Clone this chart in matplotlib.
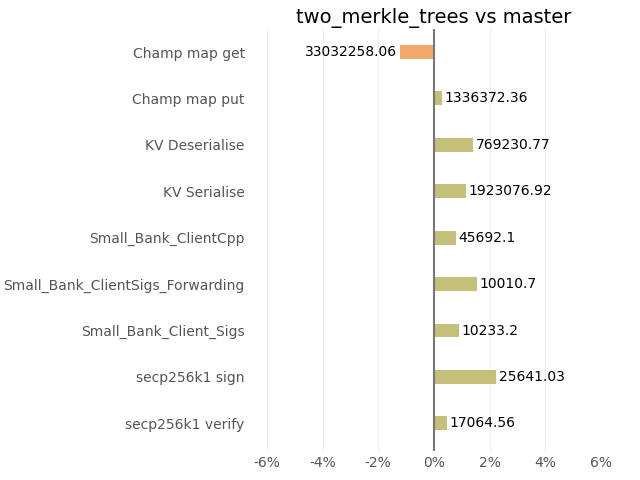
import matplotlib
matplotlib.use("Agg")
import matplotlib.pyplot as plt
import numpy as np

labels = ["Champ map get", "Champ map put", "KV Deserialise", "KV Serialise",
          "Small_Bank_ClientCpp", "Small_Bank_ClientSigs_Forwarding",
          "Small_Bank_Client_Sigs", "secp256k1 sign", "secp256k1 verify"]
pct = [-1.22, 0.29, 1.40, 1.15, 0.79, 1.55, 0.90, 2.23, 0.47]
values = ["33032258.06", "1336372.36", "769230.77", "1923076.92", "45692.1",
          "10010.7", "10233.2", "25641.03", "17064.56"]

fig = plt.figure(figsize=(6.4, 4.8), dpi=100)
ax = fig.add_axes([0.417, 0.06, 0.522, 0.88])
y = np.arange(len(labels))[::-1]
colors = ["#f4a96b" if p < 0 else "#c4bf79" for p in pct]
ax.barh(y, pct, height=0.3, color=colors, zorder=2)
for yi, p, v in zip(y, pct, values):
    if p < 0:
        ax.text(p - 0.1, yi, v, ha="right", va="center", fontsize=10)
    else:
        ax.text(p + 0.1, yi, v, ha="left", va="center", fontsize=10)
ax.axvline(0, color="#777777", lw=1.5, zorder=3)
ax.set_xlim(-6, 6)
ax.set_ylim(-0.6, 8.5)
ax.set_xticks(range(-6, 7, 2))
ax.set_xticklabels([f"{t}%" for t in range(-6, 7, 2)])
ax.set_yticks(y)
ax.set_yticklabels(labels)
ax.tick_params(length=0, labelcolor="#555555", labelsize=10)
ax.tick_params(axis="y", pad=16)
ax.grid(axis="x", color="#eeeeee", zorder=0)
for s in ax.spines.values():
    s.set_visible(False)
ax.set_title("two_merkle_trees vs master", fontsize=14, pad=4)
fig.savefig("out.png")
